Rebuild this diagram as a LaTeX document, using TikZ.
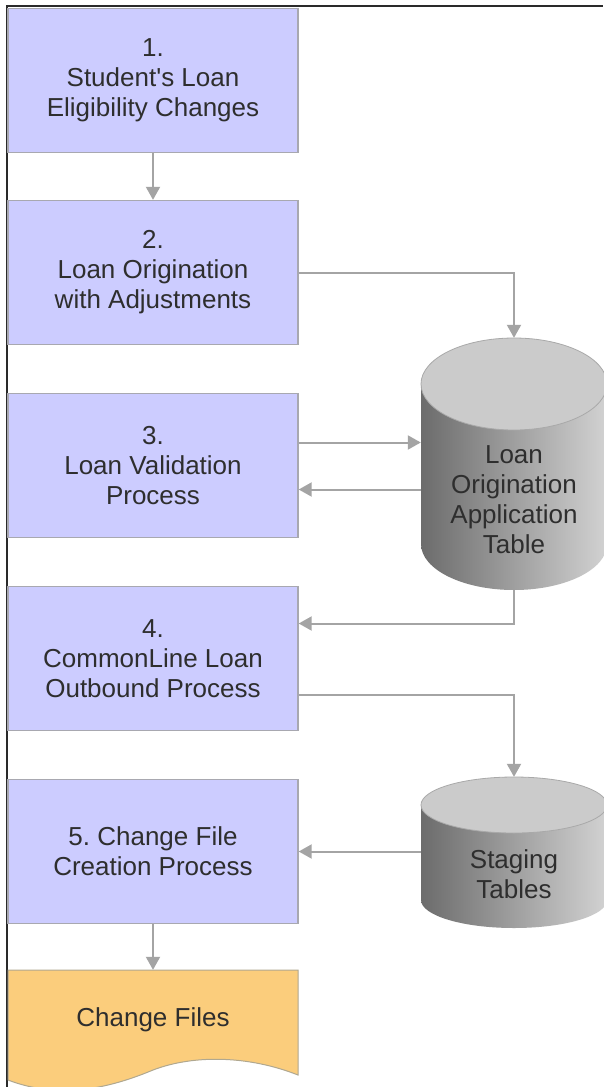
\documentclass[tikz,border=0pt]{standalone}
\usepackage{fontspec}
\setmainfont{Liberation Sans}[Ligatures=TeXOff]
\usetikzlibrary{arrows.meta,calc}
\definecolor{ink}{HTML}{2E2E2E}
\definecolor{frame}{HTML}{2A2A2A}
\definecolor{boxfill}{HTML}{CCCCFF}
\definecolor{boxedge}{HTML}{A8A8B0}
\definecolor{docfill}{HTML}{FBCD7C}
\definecolor{docedge}{HTML}{B0A890}
\definecolor{arrowgray}{HTML}{A4A4A4}
\definecolor{dbdark}{HTML}{6C6C6C}
\definecolor{dblight}{HTML}{D2D2D2}
\definecolor{dbtop}{HTML}{CBCBCB}
\definecolor{dbedge}{HTML}{A9A9A9}
\frenchspacing

\begin{document}
\begin{tikzpicture}[
  x=1pt,y=1pt,
  txt/.style={font=\fontsize{26}{30}\selectfont,text=ink,align=center},
  box/.style={txt,draw=boxedge,fill=boxfill,line width=1.4pt,minimum width=290pt,minimum height=144pt,inner sep=0pt},
  shell/.style={minimum width=186pt,inner sep=0pt},
  arrow/.style={-{Triangle[length=13pt,width=14pt]},line width=2pt,draw=arrowgray}
]
\useasboundingbox (0,0) rectangle (603,-1087);
\fill[white] (0,0) rectangle (603,-1087);
\draw[frame,line width=1.6pt] (7,-1087) -- (7,-6) -- (603,-6);

% process steps
\node[box] (s1) at (153,-80.5) {1.\\Student's Loan\\Eligibility Changes};
\node[box] (s2) at (153,-272.5) {2.\\Loan Origination\\with Adjustments};
\node[box] (s3) at (153,-465.5) {3.\\Loan Validation\\Process};
\node[box] (s4) at (153,-658.5) {4.\\CommonLine Loan\\Outbound Process};
\node[box] (s5) at (153,-851.5) {5. Change File\\Creation Process};

% output document
\filldraw[fill=docfill,draw=docedge,line width=1pt] (8,-970) -- (298,-970) -- (298,-1075)
  .. controls (250,-1056) and (195,-1054) .. (153,-1070)
  .. controls (110,-1088) and (60,-1100) .. (8,-1080) -- cycle;
\node[txt,minimum width=290pt,minimum height=100pt,inner sep=0pt] (chg) at (153,-1020) {Change Files};

% Loan Origination Application Table
\shade[left color=dbdark,right color=dblight] (421,-384) -- (421,-544)
  arc[start angle=180,end angle=360,x radius=93,y radius=46] -- (607,-384) -- cycle;
\filldraw[fill=dbtop,draw=dbedge,line width=.8pt] (514,-384) ellipse[x radius=93,y radius=46];
\node[shell,minimum height=252pt] (lot) at (514,-464) {};
\node[txt] (lottext) at (514,-500) {Loan\\Origination\\Application\\Table};

% staging tables
\shade[left color=dbdark,right color=dblight] (421,-805) -- (421,-900)
  arc[start angle=180,end angle=360,x radius=93,y radius=28] -- (607,-805) -- cycle;
\filldraw[fill=dbtop,draw=dbedge,line width=.8pt] (514,-805) ellipse[x radius=93,y radius=28];
\node[shell,minimum height=151pt] (stg) at (514,-852.5) {};
\node[txt] (stgtext) at (514,-874) {Staging\\Tables};

% connectors
\draw[arrow] (s1.south) -- (s2.north);
\draw[arrow] (s2.east) -| (lot.north);
\draw[arrow] ([yshift=23pt]s3.east) -- ([yshift=23pt]s3.east -| lot.west);
\draw[arrow] ([yshift=-24pt]s3.east -| lot.west) -- ([yshift=-24pt]s3.east);
\draw[arrow] (lot.south) |- ([yshift=35pt]s4.east);
\draw[arrow] ([yshift=-36pt]s4.east) -| (stg.north);
\draw[arrow] (stg.west |- s5.east) -- (s5.east);
\draw[arrow] (s5.south) -- (chg.north);
\end{tikzpicture}
\end{document}
